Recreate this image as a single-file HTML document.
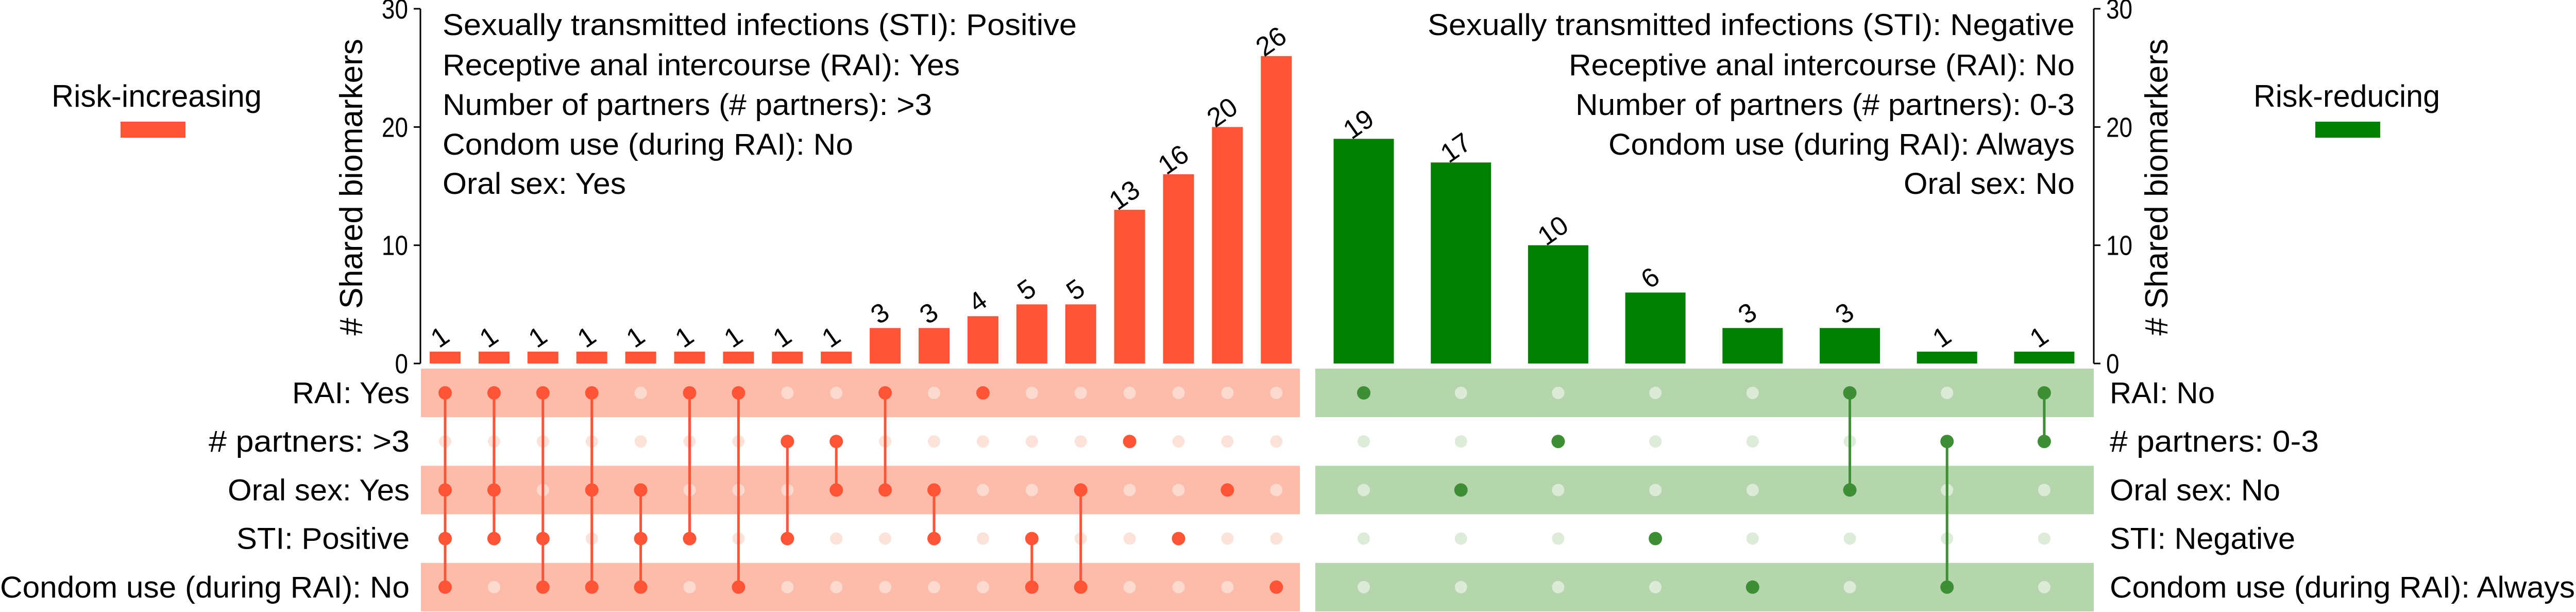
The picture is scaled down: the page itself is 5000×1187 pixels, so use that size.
<!DOCTYPE html>
<html><head><meta charset="utf-8"><style>
html,body{margin:0;padding:0;background:#fff;}
svg{display:block;font-family:"Liberation Sans",Arial,sans-serif;}
</style></head><body>
<svg id="chart" width="5000" height="1187" viewBox="0 0 5000 1187" xmlns="http://www.w3.org/2000/svg">
<g id="bands"></g>
<g id="axes"></g>
<g id="bars"></g>
<g id="matrix"></g>
<g id="labels"></g>
</svg>
<script>
// ---- data ----
const leftValues = [1,1,1,1,1,1,1,1,1,3,3,4,5,5,13,16,20,26];
const rightValues = [19,17,10,6,3,3,1,1];
const leftSets = [[0,2,3,4],[0,2,3],[0,3,4],[0,2,4],[2,3,4],[0,3],[0,4],[1,3],[1,2],[0,2],[2,3],[0],[3,4],[2,4],[1],[3],[2],[4]];
const rightSets = [[0],[2],[1],[3],[4],[0,2],[1,4],[0,1]];
const leftRowLabels = ["RAI: Yes","# partners:  >3","Oral sex: Yes","STI: Positive","Condom use (during RAI): No"];
const rightRowLabels = ["RAI: No","# partners:  0-3","Oral sex: No","STI: Negative","Condom use (during RAI): Always"];
const tickValues = [0,10,20,30];
const leftNotes = ["Sexually transmitted infections  (STI): Positive","Receptive anal intercourse (RAI): Yes","Number of partners (# partners): >3","Condom use (during RAI): No","Oral sex: Yes"];
const rightNotes = ["Sexually transmitted infections  (STI): Negative","Receptive anal intercourse (RAI): No","Number of partners (# partners): 0-3","Condom use (during RAI): Always","Oral sex: No"];

// ---- layout ----
const NS="http://www.w3.org/2000/svg";
const y0=705, yTop=17, yMax=30;
const y=v=>y0-(y0-yTop)*v/yMax;
const leftX=i=>864+i*94.9;
const rightX=i=>2647+i*188.7;
const rowY=r=>762+r*94.2;
const RED="#FF5436", GREEN="#008000";
function mk(tag,attrs,parent,text){const e=document.createElementNS(NS,tag);for(const k in attrs)e.setAttribute(k,attrs[k]);if(text!==undefined)e.textContent=text;document.getElementById(parent).appendChild(e);return e;}

// bands
[0,2,4].forEach(r=>{
  const b1=mk('rect',{x:817,y:rowY(r)-47,width:1706,height:94,fill:'#FDBCAA'},'bands');
  
  
  const b2=mk('rect',{x:2553,y:rowY(r)-47,width:1511,height:94,fill:'#B5D5AD'},'bands');
  
  
});

// axes
let a=mk('line',{x1:816,y1:yTop,x2:816,y2:y0,stroke:'#000','stroke-width':3},'axes');


a=mk('line',{x1:4064,y1:yTop,x2:4064,y2:y0,stroke:'#000','stroke-width':3},'axes');


tickValues.forEach(v=>{
  mk('line',{x1:803,y1:y(v),x2:816,y2:y(v),stroke:'#000','stroke-width':3},'axes');
  let t=mk('text',{x:792,y:y(v)+19,'font-size':54,'text-anchor':'end',transform:`translate(792 0) scale(0.85 1) translate(-792 0)`},'axes',String(v));
  
  
  mk('line',{x1:4064,y1:y(v),x2:4077,y2:y(v),stroke:'#000','stroke-width':3},'axes');
  t=mk('text',{x:4088,y:y(v)+19,'font-size':54,transform:`translate(4088 0) scale(0.85 1) translate(-4088 0)`},'axes',String(v));
  
  
});
let tt=mk('text',{x:0,y:0,'font-size':62,'text-anchor':'middle',transform:'translate(703 363) rotate(-90)'},'axes','# Shared biomarkers');


tt=mk('text',{x:0,y:0,'font-size':62,'text-anchor':'middle',transform:'translate(4207 363) rotate(-90)'},'axes','# Shared biomarkers');



// bars
function drawBars(vals,xf,w,color,side){
  vals.forEach((v,i)=>{
    const cx=xf(i);
    const r=mk('rect',{x:cx-w/2,y:y(v),width:w,height:y0-y(v),fill:color},'bars');
    
    
    const t=mk('text',{x:0,y:0,'font-size':52,'text-anchor':'middle',transform:`translate(${cx} ${y(v)-14}) rotate(-35)`},'bars',String(v));
    
    
  });
}
drawBars(leftValues,leftX,60,RED,'left');
drawBars(rightValues,rightX,117,GREEN,'right');

// matrix
function drawMatrix(sets,xf,on,offBand,offWhite,side){
  sets.forEach((s,i)=>{
    const cx=xf(i);
    for(let r=0;r<5;r++){
      if(s.includes(r))continue;
      const c=mk('circle',{cx:cx,cy:rowY(r),r:12,fill:(r%2===0)?offBand:offWhite},'matrix');
      
      
    }
    if(s.length>1){
      const l=mk('line',{x1:cx,y1:rowY(Math.min(...s)),x2:cx,y2:rowY(Math.max(...s)),stroke:on,'stroke-width':5},'matrix');
      
      
    }
    s.forEach(r=>{
      const c=mk('circle',{cx:cx,cy:rowY(r),r:13,fill:on},'matrix');
      
      
    });
  });
}
drawMatrix(leftSets,leftX,RED,'#FDDACF','#FCE3DA','left');
drawMatrix(rightSets,rightX,'#3E8E36','#DCEBD7','#DDEBD9','right');

// row labels
const lw=[228,390,353,336,795], rw=[206,408,333,362,905];
leftRowLabels.forEach((s,r)=>{
  const t=mk('text',{x:795-lw[r],y:rowY(r)+20,'font-size':58,textLength:lw[r],lengthAdjust:'spacingAndGlyphs'},'labels',s);
  
  
});
rightRowLabels.forEach((s,r)=>{
  const t=mk('text',{x:4095,y:rowY(r)+20,'font-size':58,textLength:rw[r]-2,lengthAdjust:'spacingAndGlyphs'},'labels',s);
  
  
});

// annotations
const lnw=[1231,1004,950,797,356], rnw=[1256,982,969,905,332];
const base=[68,146,223,300,376];
leftNotes.forEach((s,i)=>{
  const t=mk('text',{x:859,y:base[i],'font-size':58,textLength:lnw[i],lengthAdjust:'spacingAndGlyphs'},'labels',s);
  
  
});
rightNotes.forEach((s,i)=>{
  const t=mk('text',{x:4027-rnw[i],y:base[i],'font-size':58,textLength:rnw[i],lengthAdjust:'spacingAndGlyphs'},'labels',s);
  
  
});

// legends
let lg=mk('text',{x:100,y:207,'font-size':60,textLength:408,lengthAdjust:'spacingAndGlyphs'},'labels','Risk-increasing');


lg=mk('rect',{x:234,y:236,width:126,height:31,fill:RED},'labels');


lg=mk('text',{x:4374,y:207,'font-size':60,textLength:362,lengthAdjust:'spacingAndGlyphs'},'labels','Risk-reducing');


lg=mk('rect',{x:4494,y:236,width:126,height:31,fill:GREEN},'labels');


</script>
</body></html>
